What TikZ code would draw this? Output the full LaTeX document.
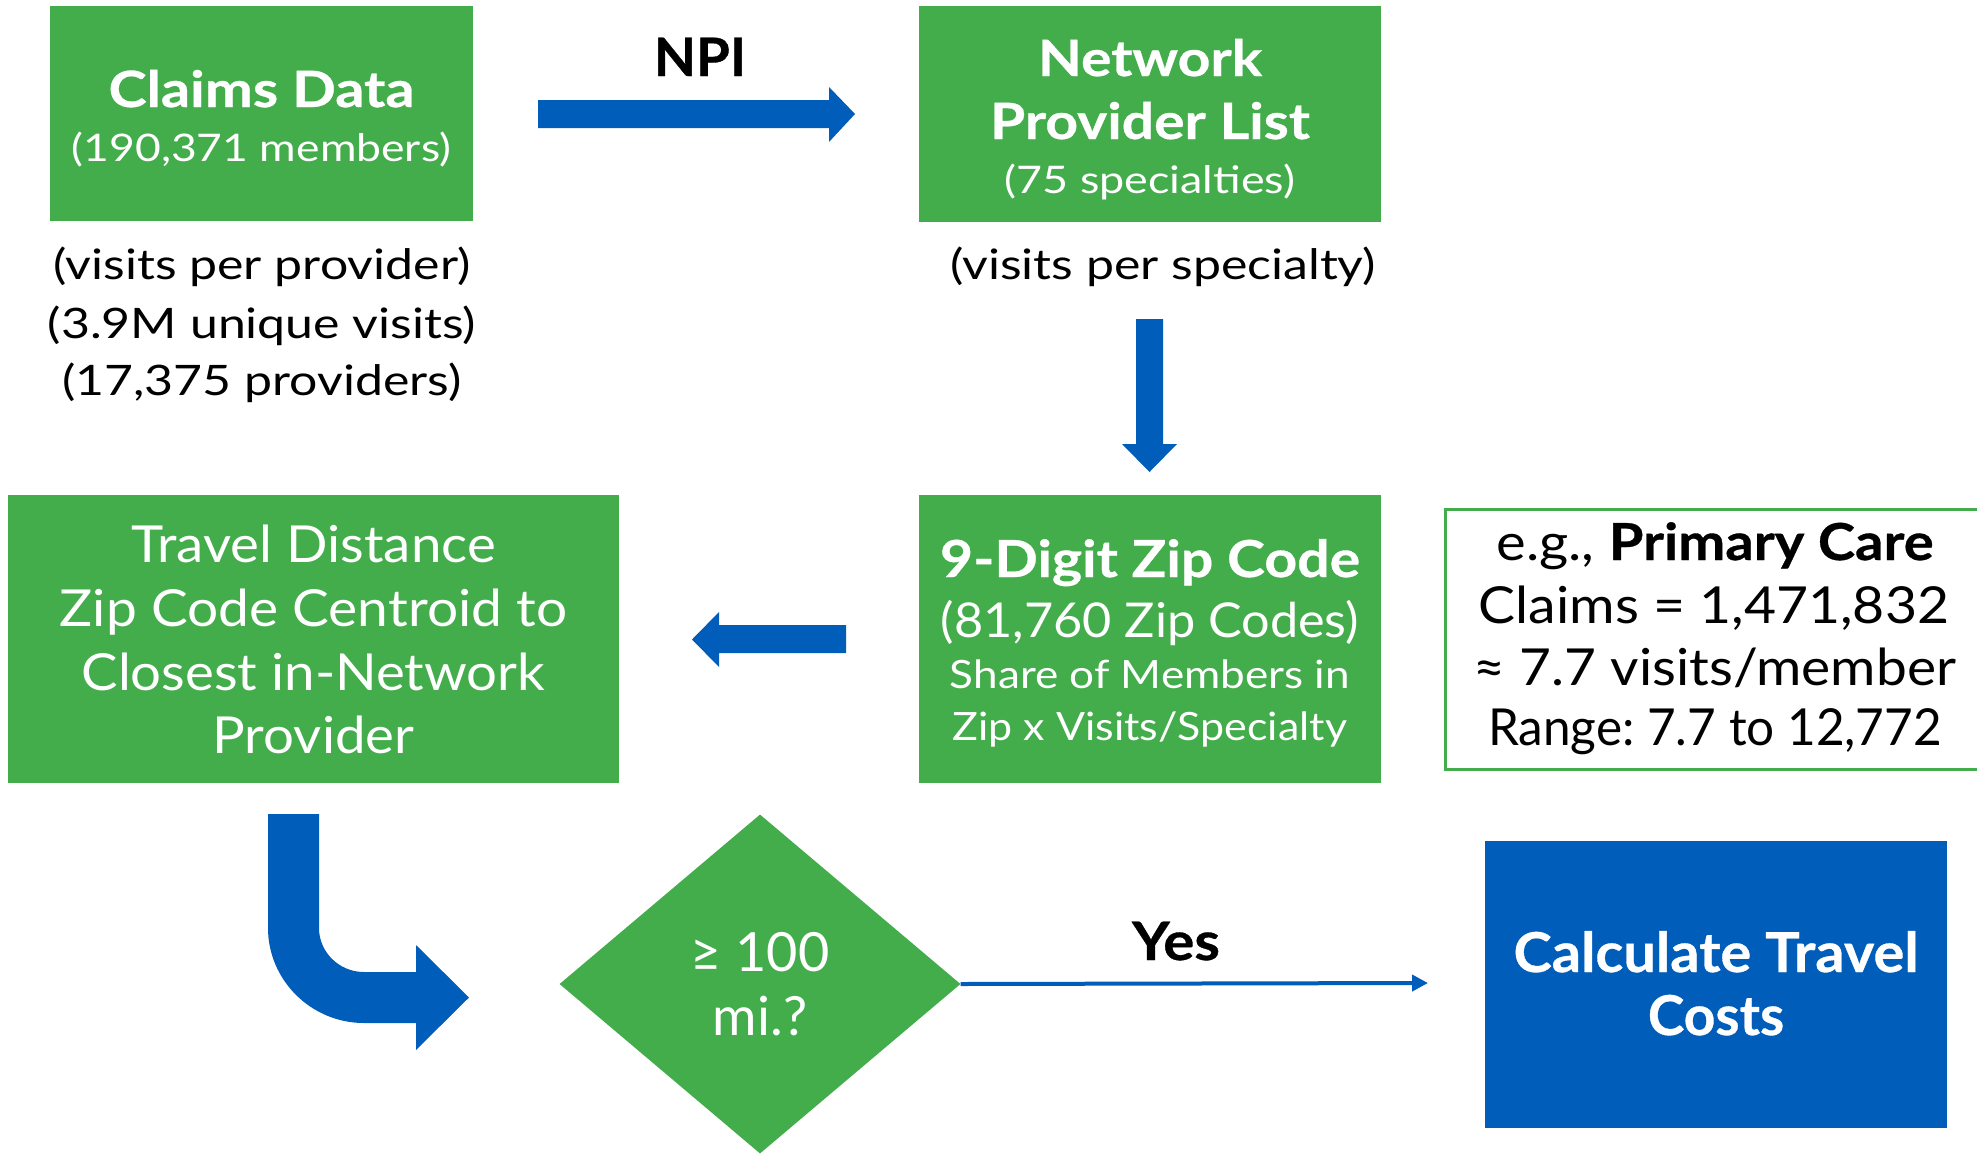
\documentclass[tikz,border=0pt]{standalone}
\usepackage{fontspec}
\setmainfont{Lato}
\usetikzlibrary{shapes.geometric,arrows.meta}
\definecolor{boxgreen}{RGB}{67,172,75}
\definecolor{boxblue}{RGB}{0,93,185}
\newcommand\nfnt[2]{\fontsize{#1}{60}\selectfont\addfontfeature{FakeStretch=#2}}
\newcommand\bfnt[2]{\fontsize{#1}{60}\selectfont\bfseries\addfontfeature{FakeStretch=#2,FakeBold=0.6}}
\tikzset{
  greenbox/.style={rectangle,fill=boxgreen,draw=none,inner sep=0pt},
  bluebox/.style={rectangle,fill=boxblue,draw=none,inner sep=0pt},
  notebox/.style={rectangle,fill=white,draw=boxgreen,line width=3pt,inner sep=0pt},
  txt/.style={anchor=base,inner sep=0pt},
  wtxt/.style={txt,text=white},
  btxt/.style={txt,text=black},
  blockarrow/.style={fill=boxblue,draw=none},
  thinarrow/.style={draw=boxblue,line width=4pt,-{Triangle[length=16pt,width=16pt]}},
}
\begin{document}
\frenchspacing
\begin{tikzpicture}[x=1pt,y=-1pt]
\useasboundingbox (0,0) rectangle (1977,1154);
\fill[white] (0,0) rectangle (1977,1154);

% Claims data
\node[greenbox,minimum width=423pt,minimum height=215pt] (claims) at (261.5,113.5) {};
\node[wtxt,font=\bfnt{50}{1.15}] (claimsT) at (261.5,107) {Claims Data};
\node[wtxt,font=\nfnt{38}{1.17}] (claimsS) at (261.5,161) {(190,371 members)};
\node[btxt,font=\nfnt{42}{1.19}] (visA) at (262,279) {(visits per provider)};
\node[btxt,font=\nfnt{42}{1.19}] (visB) at (262,338) {(3.9M unique visits)};
\node[btxt,font=\nfnt{42}{1.19}] (visC) at (262,395) {(17,375 providers)};

% NPI arrow
\node[btxt,font=\bfnt{53}{1.03}] (npi) at (700,76) {NPI};
\fill[blockarrow] (538,100) -- (829,100) -- (829,87) -- (855,114) -- (829,142) -- (829,128) -- (538,128) -- cycle;

% Network provider list
\node[greenbox,minimum width=462pt,minimum height=216pt] (network) at (1150,114) {};
\node[wtxt,font=\bfnt{50}{1.14}] (netA) at (1150,76) {Network};
\node[wtxt,font=\bfnt{50}{1.14}] (netB) at (1150,139) {Provider List};
\node[wtxt,font=\nfnt{38}{1.18}] (netC) at (1150,193) {(75 specialties)};
\node[btxt,font=\nfnt{42}{1.19}] (visS) at (1163,279) {(visits per specialty)};

% down arrow
\fill[blockarrow] (1136,319) -- (1163,319) -- (1163,444) -- (1177,444) -- (1149.5,472) -- (1122,444) -- (1136,444) -- cycle;

% 9-digit zip
\node[greenbox,minimum width=462pt,minimum height=288pt] (zip) at (1150,639) {};
\node[wtxt,font=\bfnt{51}{1.12}] (zipA) at (1150,577) {9-Digit Zip Code};
\node[wtxt,font=\nfnt{48}{1.05}] (zipB) at (1150,637) {(81,760 Zip Codes)};
\node[wtxt,font=\nfnt{39}{1.13}] (zipC) at (1150,688) {Share of Members in};
\node[wtxt,font=\nfnt{39}{1.10}] (zipD) at (1150,740) {Zip x Visits/Specialty};

% example box
\node[notebox,minimum width=540pt,minimum height=260pt] (note) at (1715,639) {};
\node[btxt,font=\nfnt{51}{1.1}] (noteA) at (1715,560) {e.g., {\bfnt{51}{1.1}Primary Care}};
\node[btxt,font=\nfnt{51}{1.085}] (noteB) at (1714,623) {Claims = 1,471,832};
\node[btxt,font=\nfnt{51}{1.08}] (noteC) at (1715,685) {≈ 7.7 visits/member};
\node[btxt,font=\nfnt{51}{0.97}] (noteD) at (1715,745) {Range: 7.7 to 12,772};

% left arrow
\fill[blockarrow] (846,625) -- (719,625) -- (719,612) -- (692,639.5) -- (719,667) -- (719,653) -- (846,653) -- cycle;

% Travel distance
\node[greenbox,minimum width=611pt,minimum height=288pt] (travel) at (313.5,639) {};
\node[wtxt,font=\nfnt{51}{1.07}] (trA) at (313.5,562) {Travel Distance};
\node[wtxt,font=\nfnt{51}{1.08}] (trB) at (313.5,626) {Zip Code Centroid to};
\node[wtxt,font=\nfnt{51}{1.07}] (trC) at (313.5,690) {Closest in-Network};
\node[wtxt,font=\nfnt{51}{1.07}] (trD) at (313.5,753) {Provider};

% bent arrow
\fill[blockarrow] (268,814) -- (319,814) -- (319,928)
  .. controls (319,952) and (339,972) .. (364,972)
  -- (416,972) -- (416,945) -- (469,997.5) -- (416,1050) -- (416,1023) -- (364,1023)
  .. controls (311,1023) and (268,980) .. (268,928) -- cycle;

% diamond
\node[diamond,fill=boxgreen,draw=none,inner sep=0pt,minimum width=401pt,minimum height=339pt] (dec) at (760,984) {};
\node[wtxt,font=\nfnt{54}{1.0}] (decA) at (760,971) {≥ 100};
\node[wtxt,font=\nfnt{54}{1.0}] (decB) at (760,1035) {mi.?};

% Yes arrow
\coordinate (yesend) at (1428,983);
\draw[thinarrow] (dec.east) -- (yesend);
\node[btxt,font=\bfnt{53}{1.1}] (yes) at (1176,960) {Yes};

% calculate travel costs
\node[bluebox,minimum width=462pt,minimum height=287pt] (calc) at (1716,984.5) {};
\node[wtxt,font=\bfnt{55}{1.05}] (calcA) at (1716,972) {Calculate Travel};
\node[wtxt,font=\bfnt{55}{1.0}] (calcB) at (1716,1035) {Costs};
\end{tikzpicture}
\end{document}
